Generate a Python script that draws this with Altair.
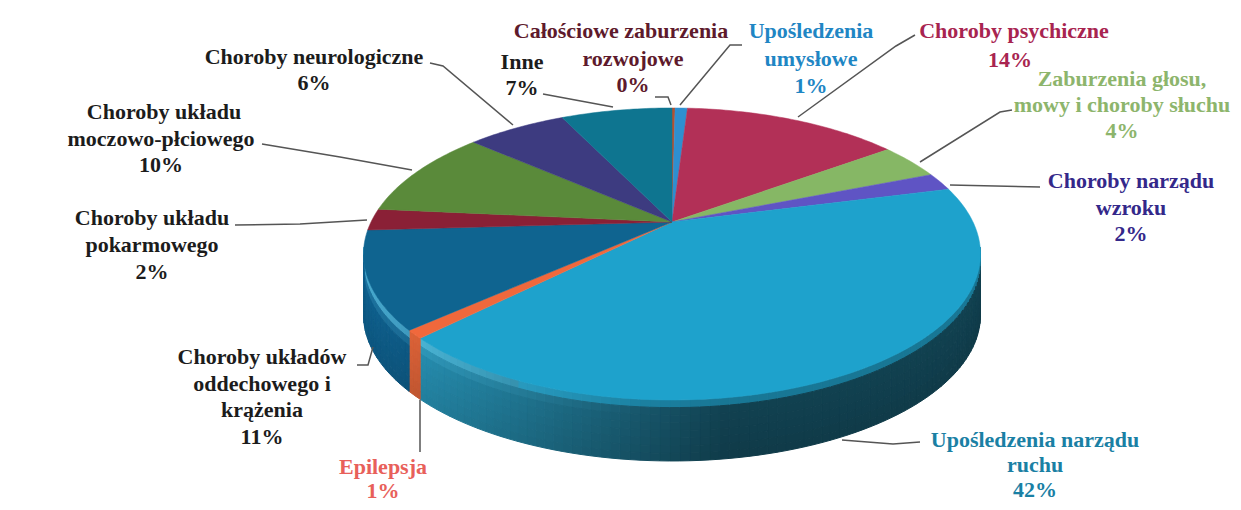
import math
import altair as alt

# --- chart values -----------------------------------------------------------
names = ["Całościowe zaburzenia\nrozwojowe", "Upośledzenia\numysłowe", "Choroby psychiczne",
         "Zaburzenia głosu,\nmowy i choroby słuchu", "Choroby narządu\nwzroku",
         "Upośledzenia narządu\nruchu", "Epilepsja", "Choroby układów\noddechowego i\nkrążenia",
         "Choroby układu\npokarmowego", "Choroby układu\nmoczowo-płciowego",
         "Choroby neurologiczne", "Inne"]
values = [0.2, 0.8, 14.0, 4.0, 2.0, 41.5, 0.9, 10.7, 2.4, 9.9, 6.4, 7.2]
face_colors = ["#b5502f", "#2e8fd0", "#b23057", "#86b765", "#5f54c4", "#1ea2cc",
               "#f0683c", "#0f6490", "#8a2036", "#5a8a3a", "#3d3b80", "#0e7590"]
wall_colors = ["#b5502f", "#2e8fd0", "#b23057", "#86b765", "#5f54c4", "#2a9ec4",
               "#ee6a3c", "#0f6392", "#8a2036", "#5a8a3a", "#3d3b80", "#0e7590"]
text_colors = ["#5e1a2c", "#1f86c4", "#a82450", "#8db56c", "#34288a", "#1a80a4",
               "#e8605a", "#1c1c1c", "#1c1c1c", "#1c1c1c", "#1c1c1c", "#1c1c1c"]

# --- layout (page pixels, the page margin is removed below) -------------------
M = 8
APEX_X, APEX_Y, RX, RY, PERSP, DEPTH = 672, 222, 301, 139, 0.219, 61
label_layout = [
    ([621, 633, 633], [31, 59, 85]),
    ([811, 811, 811], [31, 59, 86]),
    ([1014, 1010], [31, 60]),
    ([1122, 1122, 1122], [79, 105, 131]),
    ([1131, 1131, 1131], [181, 208, 234]),
    ([1035, 1035, 1035], [440, 465, 490]),
    ([383, 383], [467, 491]),
    ([262, 262, 262, 262], [357, 384, 410, 437]),
    ([152, 152, 152], [218, 245, 272]),
    ([164, 161, 161], [112, 139, 165]),
    ([314, 314], [57, 83]),
    ([522, 522], [62, 88]),
]
leaders = [
    [(655, 97), (668, 97), (671, 105)],
    [(680, 105), (730, 45), (742, 45)],
    [(915, 35), (896, 46), (798, 117)],
    [(1012, 110), (1000, 112), (920, 162)],
    [(950, 185), (1040, 187)],
    [(842, 440), (893, 444), (920, 442)],
    [(420, 400), (420, 452)],
    [(357, 365), (368, 365), (373, 347)],
    [(235, 225), (300, 224), (367, 220)],
    [(262, 144), (340, 157), (412, 170)],
    [(430, 63), (443, 66), (513, 125)],
    [(543, 94), (613, 107)],
]


def project(deg):
    t = math.radians(deg)
    u, v = math.sin(t), math.cos(t)
    w = 1 + PERSP * v
    return APEX_X - M + RX * u / w, APEX_Y - M - RY * v / w


def mix(a, b, f):
    return tuple(a[i] + (b[i] - a[i]) * f for i in range(3))


def rgb(h):
    return tuple(int(h[i:i + 2], 16) for i in (1, 3, 5))


def hx(c):
    return "#%02x%02x%02x" % tuple(max(0, min(255, round(x))) for x in c)


def feature(ring, color):
    return {"type": "Feature", "properties": {"color": color},
            "geometry": {"type": "Polygon", "coordinates": [[list(p) for p in ring] + [list(ring[0])]]}}


# --- build the pie from the values ---------------------------------------------
spans, start = [], 0.0
total = sum(values)
for val in values:
    end = start + val / total * 360
    spans.append((start, end))
    start = end

faces = []
for (a, b), col in zip(spans, face_colors):
    n = max(2, int((b - a) / 1.0) + 1)
    ring = [(APEX_X - M, APEX_Y - M)] + [project(a + (b - a) * i / n) for i in range(n + 1)]
    faces.append(feature(ring, col))

walls = []
ROWS = 8
for (a, b), col, face in zip(spans, wall_colors, face_colors):
    lo, hi = max(a, 100.0), min(b, 260.0)
    if hi <= lo:
        continue
    n = max(1, int((hi - lo) / 1.5) + 1)
    for i in range(n):
        t0, t1 = lo + (hi - lo) * i / n, lo + (hi - lo) * (i + 1) / n
        p0, p1 = project(t0), project(t1)
        xm = (p0[0] + p1[0]) / 2
        pos = (xm - (365 - M)) / 614
        shade = 1.0 - 0.58 * min(1, max(0, pos * 1.7))
        for r in range(ROWS):
            f0, f1 = r / ROWS, (r + 1) / ROWS
            fm = (f0 + f1) / 2
            glow = max(0, 1 - 2.2 * pos) * math.exp(-((fm - 0.07) / 0.1) ** 2)
            base = tuple(x * shade * (1 - 0.12 * fm) for x in rgb(col))
            c = mix(base, (110, 215, 245), 0.6 * glow if col != "#ee6a3c" else 0)
            if fm < 0.14 and pos > 0.25:
                c = mix(c, rgb(face), 0.55)
            ring = [(p0[0], p0[1] + DEPTH * f0), (p1[0], p1[1] + DEPTH * f0),
                    (p1[0], p1[1] + DEPTH * f1), (p0[0], p0[1] + DEPTH * f1)]
            walls.append(feature(ring, hx(c)))

# --- text and leader tables ------------------------------------------------------
text_rows = []
for name, val, tc, (xs, ys) in zip(names, values, text_colors, label_layout):
    lines = name.split("\n") + [f"{round(val)}%"]
    for line, x, y in zip(lines, xs, ys):
        text_rows.append({"t": line, "x": x - M, "y": y - M, "c": tc})

leader_rows = []
for k, pts in enumerate(leaders):
    for i, (x, y) in enumerate(pts):
        leader_rows.append({"id": k, "i": i, "x": x - M, "y": y - M})

proj = dict(type="identity", scale=1, translate=[0, 0])
color_field = alt.Color("properties.color:N", scale=None, legend=None)

wall_layer = alt.Chart(alt.Data(values=walls)).mark_geoshape(strokeWidth=1.0).encode(
    color=color_field, stroke=alt.Stroke("properties.color:N", scale=None, legend=None)).project(**proj)
face_layer = alt.Chart(alt.Data(values=faces)).mark_geoshape(strokeWidth=0.5).encode(
    color=color_field, stroke=alt.Stroke("properties.color:N", scale=None, legend=None)).project(**proj)
leader_layer = alt.Chart(alt.Data(values=leader_rows)).mark_line(color="#555555", strokeWidth=1.5).encode(
    x=alt.X("x:Q", scale=None, axis=None), y=alt.Y("y:Q", scale=None, axis=None),
    detail="id:N", order="i:Q")
text_layer = alt.Chart(alt.Data(values=text_rows)).mark_text(
    font="Liberation Serif", fontWeight="bold", fontSize=22, baseline="middle", align="center").encode(
    x=alt.X("x:Q", scale=None, axis=None), y=alt.Y("y:Q", scale=None, axis=None),
    text="t:N", color=alt.Color("c:N", scale=None, legend=None))

chart = alt.layer(wall_layer, face_layer, leader_layer, text_layer).properties(
    width=1225, height=494, padding=0, autosize=alt.AutoSizeParams(type="none"), background="white"
).configure_view(stroke=None)

chart.save("out.html", embed_options={"renderer": "svg", "actions": False})
